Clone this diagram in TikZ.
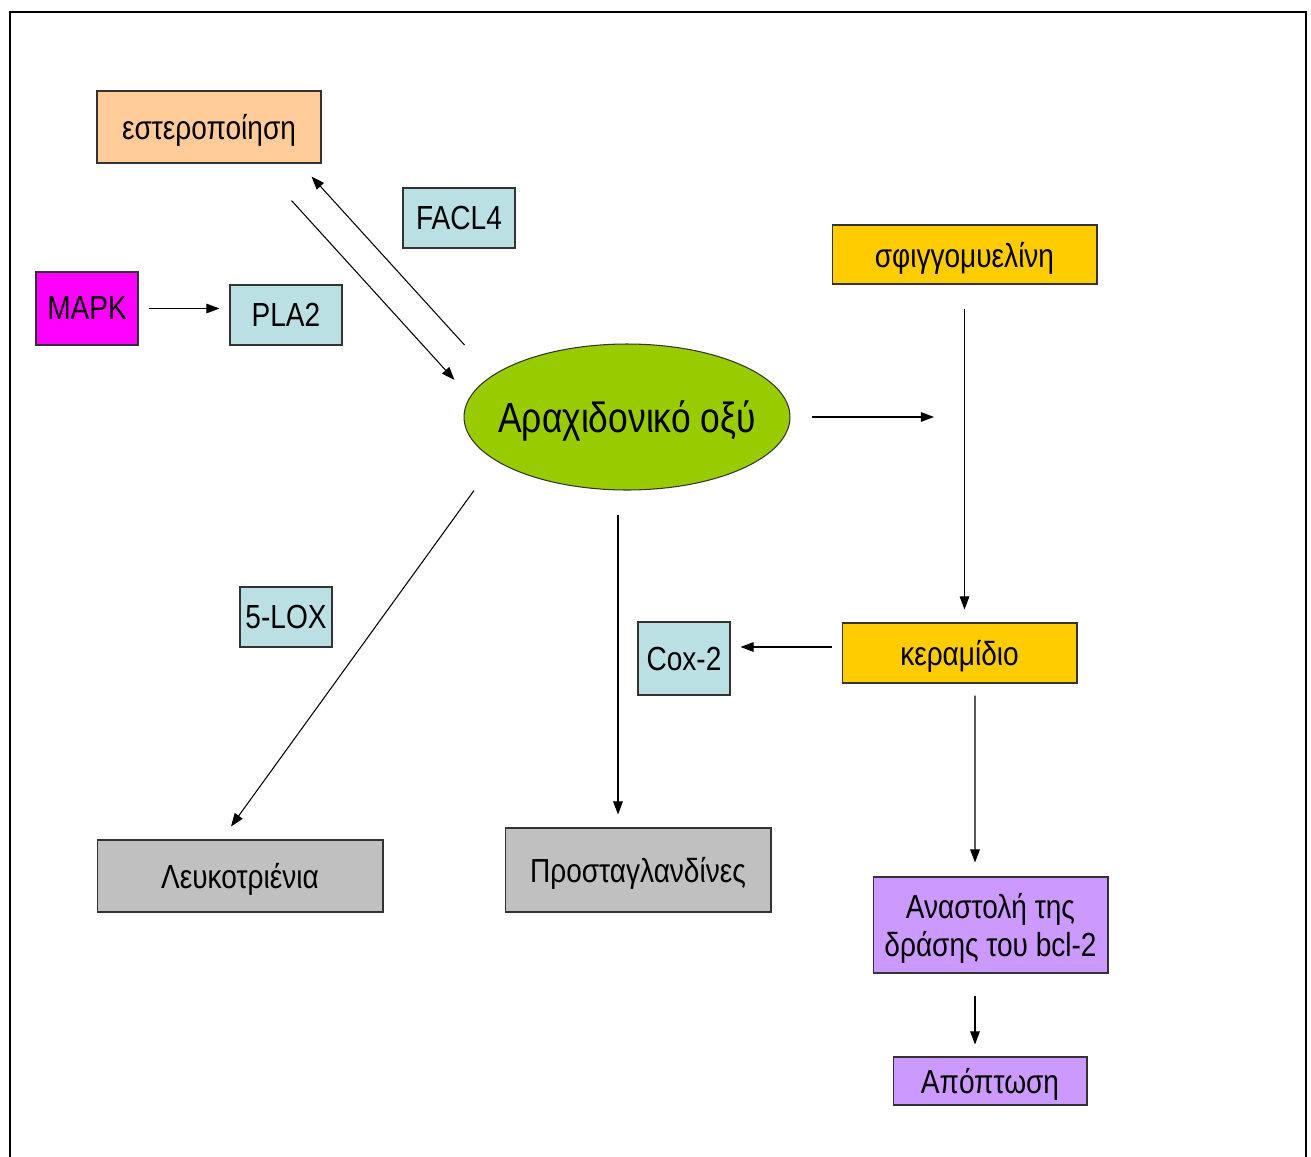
\documentclass[tikz,border=0pt]{standalone}
\usepackage{fontspec}
\setmainfont[FakeStretch=0.84]{Liberation Sans}
\usepackage{tikz}
\usetikzlibrary{arrows.meta,shapes.geometric,calc}
\definecolor{peach}{RGB}{255,204,153}
\definecolor{enz}{RGB}{187,224,227}
\definecolor{kin}{RGB}{255,0,255}
\definecolor{lipid}{RGB}{255,204,0}
\definecolor{acidc}{RGB}{153,204,0}
\definecolor{prod}{RGB}{192,192,192}
\definecolor{death}{RGB}{204,153,255}

\begin{document}
\begin{tikzpicture}[x=0.02cm,y=-0.02cm,
    box/.style={draw=black!80,line width=0.6pt,inner sep=0pt,align=center,
      text depth=0pt,font=\fontsize{19}{22}\selectfont},
    arr/.style={-{Triangle[length=7.5pt,width=5.5pt]},line width=0.6pt}]
    \useasboundingbox (0,0) rectangle (1311,1156);
    \clip (0,0) rectangle (1311,1156);
    % frame, open at the bottom
    \draw[line width=1.2pt] (10,1170) -- (10,12) -- (1306,12) -- (1306,1170);
    % boxes: name/x/y/width/height/colour/text
    \foreach \nm/\x/\y/\w/\h/\col/\txt in {
      ester/209/127/4.48/1.44/peach/{εστεροποίηση},
      facl/459/218/2.24/1.2/enz/{FACL4},
      mapk/87/308.5/2.04/1.46/kin/{MAPK},
      pla/286/315/2.24/1.2/enz/{PLA2},
      sph/964.5/254.5/5.3/1.18/lipid/{σφιγγομυελίνη},
      lox/286/617/1.84/1.2/enz/{5-LOX},
      cox/684/658.5/1.84/1.46/enz/{Cox-2},
      cer/959.5/653/4.7/1.2/lipid/{κεραμίδιο},
      leuko/240/876/5.72/1.44/prod/{Λευκοτριένια},
      prosta/638/870/5.32/1.68/prod/{Προσταγλανδίνες},
      bcl/990.5/925/4.7/1.92/death/{Αναστολή της\\δράσης του bcl-2},
      apopt/990/1081/3.88/0.96/death/{Απόπτωση}}{
      \node[box,fill=\col,minimum width=\w cm,minimum height=\h cm]
        (\nm) at (\x,\y) {\txt};
    }
    \node[ellipse,draw=black!80,line width=0.6pt,fill=acidc,
      inner xsep=-0.3cm,inner ysep=0pt,text depth=0pt,
      minimum width=6.52cm,minimum height=2.92cm,
      font=\fontsize{24}{28}\selectfont] (acid) at (627,417) {Αραχιδονικό οξύ};
    \coordinate (free) at (934,417);
    % connectors
    \draw[arr] ($(mapk.east)+(10,0)$) -- ($(mapk.east -| pla.west)+(-10,0)$);
    \draw[arr] ($(ester.south east)+(-30,37)$) -- ($(acid.west)+(-9,-37)$);
    \draw[arr] ($(acid.west)+(1,-72)$) -- ($(ester.south east)+(-10,13)$);
    \draw[arr] ($(acid.east)+(21,0)$) -- (free);
    \draw[arr] ($(sph.south)+(0,24)$) -- ($(sph.south |- cer.north)+(0,-13)$);
    \draw[arr] ($(cer.west)+(-10,-6)$) -- ($(cox.east)+(10,-11.5)$);
    \draw[arr] ($(acid.south)+(-153,0)$) -- ($(leuko.north)+(-9,-13)$);
    \draw[arr] ($(acid.south)+(-9,24)$) -- ($(prosta.north)+(-20,-13)$);
    \draw[arr] ($(cer.south)+(15.5,12)$) -- ($(bcl.north)+(-15.5,-14)$);
    \draw[arr] ($(bcl.south)+(-15.5,22)$) -- ($(apopt.north)+(-15,-12)$);
\end{tikzpicture}
\end{document}
